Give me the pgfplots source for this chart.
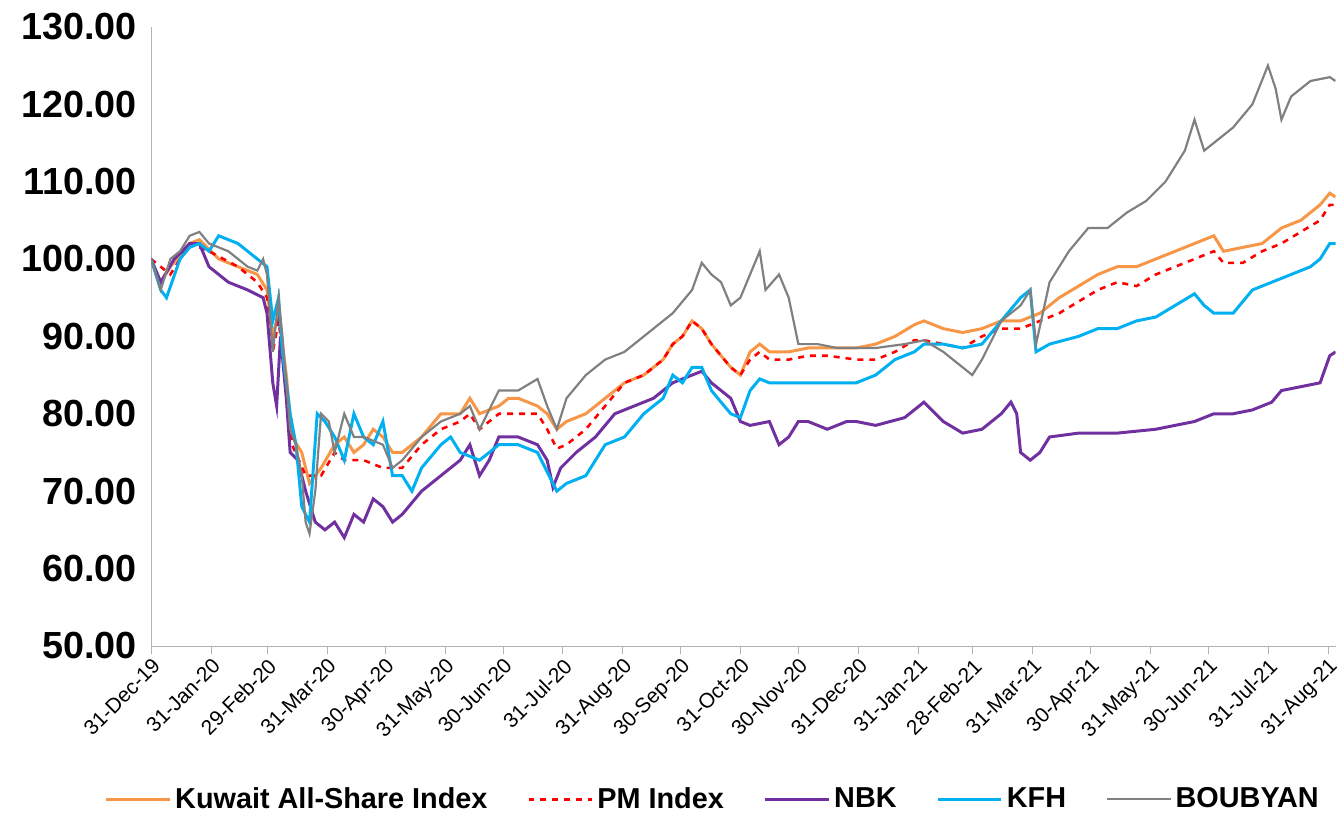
\documentclass[border=0pt]{standalone}
\usepackage{pgfplots}
\pgfplotsset{compat=1.18}
\usepackage{fontspec}
\setmainfont{Liberation Sans}
\definecolor{cOr}{RGB}{247,150,70}
\definecolor{cPu}{RGB}{112,48,160}
\definecolor{cBl}{RGB}{0,176,240}
\definecolor{cGr}{RGB}{128,128,128}
\begin{document}
\begin{tikzpicture}
\begin{axis}[name=ax, scale only axis, width=596pt, height=311.5pt,
 xmin=0, xmax=613, ymin=50, ymax=130,
 ytick={50,60,...,130},
 yticklabel style={font=\fontsize{19}{21}\selectfont\bfseries, /pgf/number format/fixed, /pgf/number format/fixed zerofill, /pgf/number format/precision=2, inner sep=3pt},
 /pgf/number format/assume math mode=true,
 xtick={0,31,60,91,121,152,182,213,244,274,305,335,366,397,425,456,486,517,547,578,609},
 xticklabels={31-Dec-19,31-Jan-20,29-Feb-20,31-Mar-20,30-Apr-20,31-May-20,30-Jun-20,31-Jul-20,31-Aug-20,30-Sep-20,31-Oct-20,30-Nov-20,31-Dec-20,31-Jan-21,28-Feb-21,31-Mar-21,30-Apr-21,31-May-21,30-Jun-21,31-Jul-21,31-Aug-21},
 xticklabel style={font=\fontsize{10.5}{12}\selectfont, rotate=45, anchor=north east, inner sep=1pt},
 axis x line*=bottom, axis y line*=left,
 axis line style={draw=gray!60},
 x axis line style={-}, y axis line style={-},
 xtick style={draw=gray!60}, major tick length=4pt,
 ytick style={draw=none},
 tick align=outside,
 legend style={at={(0.475,-0.215)}, anchor=north, draw=none, legend columns=5, font=\fontsize{14.5}{16}\selectfont\bfseries, /tikz/every even column/.append style={column sep=18pt}},
 legend image code/.code={\draw[#1] (0pt,0pt) -- (32pt,0pt);},
]
\addplot[cOr, line width=1.5pt] coordinates {(0,100)(5,97)(10,99)(20,102)(25,102.5)(35,100)(45,99)(55,98)(60,96)(63,90)(66,93)(70,85)(73,77)(78,75)(82,71)(88,73)(95,76)(100,77)(105,75)(110,76)(115,78)(120,77)(125,75)(130,75)(140,77)(150,80)(160,80)(165,82)(170,80)(180,81)(185,82)(190,82)(200,81)(205,80)(210,78)(215,79)(225,80)(235,82)(245,84)(255,85)(265,87)(270,89)(275,90)(280,92)(285,91)(290,89)(300,86)(305,85)(310,88)(315,89)(320,88)(330,88)(340,88.5)(350,88.5)(365,88.5)(375,89)(385,90)(395,91.5)(400,92)(410,91)(420,90.5)(430,91)(440,92)(450,92)(460,93)(470,95)(480,96.5)(490,98)(500,99)(510,99)(520,100)(530,101)(540,102)(550,103)(555,101)(565,101.5)(575,102)(585,104)(595,105)(605,107)(610,108.5)(613,108)};
\addlegendentry{Kuwait All-Share Index}
\addplot[red, dashed, line width=1.3pt] coordinates {(0,100)(10,98)(20,102)(30,101)(45,99)(55,97)(60,95)(63,88)(66,92)(70,84)(73,76)(80,72)(88,72)(95,75)(100,74)(110,74)(120,73)(130,73)(140,76)(150,78)(160,79)(165,80)(170,78)(180,80)(190,80)(200,80)(205,78)(210,75.5)(215,76)(225,78)(235,81)(245,84)(255,85)(265,87)(270,89)(275,90)(280,92)(285,91)(290,89)(300,86)(305,85)(310,87)(315,88)(320,87)(330,87)(340,87.5)(350,87.5)(365,87)(375,87)(385,88)(395,89.5)(400,89.5)(410,89)(420,88.5)(430,90)(440,91)(450,91)(460,92)(470,93)(480,94.5)(490,96)(500,97)(510,96.5)(520,98)(530,99)(540,100)(550,101)(555,99.5)(565,99.5)(575,101)(585,102)(595,103.5)(605,105)(610,107)(613,107)};
\addlegendentry{PM Index}
\addplot[cPu, line width=1.5pt] coordinates {(0,100)(5,97)(12,100)(20,102)(25,102)(30,99)(40,97)(50,96)(58,95)(60,93)(63,84)(65,81)(67,90)(70,82)(72,75)(76,74)(80,70)(85,66)(90,65)(95,66)(100,64)(105,67)(110,66)(115,69)(120,68)(125,66)(130,67)(140,70)(150,72)(160,74)(165,76)(170,72)(175,74)(180,77)(190,77)(200,76)(205,74)(208,70.5)(212,73)(220,75)(230,77)(240,80)(250,81)(260,82)(270,84)(280,85)(285,85.5)(290,84)(300,82)(305,79)(310,78.5)(320,79)(325,76)(330,77)(335,79)(340,79)(350,78)(360,79)(365,79)(375,78.5)(390,79.5)(400,81.5)(410,79)(420,77.5)(430,78)(440,80)(445,81.5)(448,80)(450,75)(455,74)(460,75)(465,77)(480,77.5)(500,77.5)(520,78)(530,78.5)(540,79)(550,80)(560,80)(570,80.5)(580,81.5)(585,83)(595,83.5)(605,84)(610,87.5)(613,88)};
\addlegendentry{NBK}
\addplot[cBl, line width=1.5pt] coordinates {(0,100)(5,96)(8,95)(15,100)(20,101.5)(25,102)(30,101)(35,103)(45,102)(55,100)(60,99)(63,92)(66,95)(68,88)(72,80)(75,76)(78,68)(82,66)(86,80)(90,79)(95,77)(100,74)(105,80)(110,77)(115,76)(120,79)(125,72)(130,72)(135,70)(140,73)(150,76)(155,77)(160,75)(170,74)(180,76)(190,76)(200,75)(210,70)(215,71)(225,72)(235,76)(245,77)(255,80)(265,82)(270,85)(275,84)(280,86)(285,86)(290,83)(300,80)(305,79.5)(310,83)(315,84.5)(320,84)(330,84)(340,84)(350,84)(365,84)(375,85)(385,87)(395,88)(400,89)(410,89)(420,88.5)(430,89)(440,92)(450,95)(455,96)(458,88)(465,89)(480,90)(490,91)(500,91)(510,92)(520,92.5)(530,94)(540,95.5)(545,94)(550,93)(560,93)(570,96)(580,97)(590,98)(600,99)(605,100)(610,102)(613,102)};
\addlegendentry{KFH}
\addplot[cGr, line width=1.1pt] coordinates {(0,100)(5,96)(10,100)(15,101)(20,103)(25,103.5)(30,102)(40,101)(50,99)(55,98.5)(58,100)(60,98)(63,88)(66,95)(68,90)(72,78)(75,76)(78,72)(80,66)(82,64.5)(85,70)(88,80)(92,79)(95,75)(100,80)(105,77)(110,77)(120,76)(125,73)(130,74)(140,77)(150,79)(160,80)(165,81)(170,78)(180,83)(190,83)(200,84.5)(205,81)(210,78)(215,82)(225,85)(235,87)(245,88)(255,90)(265,92)(270,93)(280,96)(285,99.5)(290,98)(295,97)(300,94)(305,95)(310,98)(315,101)(318,96)(325,98)(330,95)(335,89)(345,89)(355,88.5)(365,88.5)(375,88.5)(390,89)(400,89.5)(410,88)(420,86)(425,85)(430,87)(440,92)(450,94)(455,96)(458,89)(465,97)(475,101)(485,104)(495,104)(505,106)(515,107.5)(525,110)(535,114)(540,118)(545,114)(550,115)(560,117)(570,120)(578,125)(582,122)(585,118)(590,121)(600,123)(610,123.5)(613,123)};
\addlegendentry{BOUBYAN}
\end{axis}
\path (ax.south west) ++(-76pt,-82.5pt) rectangle ([shift={(0pt,13.5pt)}]ax.north east);
\end{tikzpicture}
\end{document}
